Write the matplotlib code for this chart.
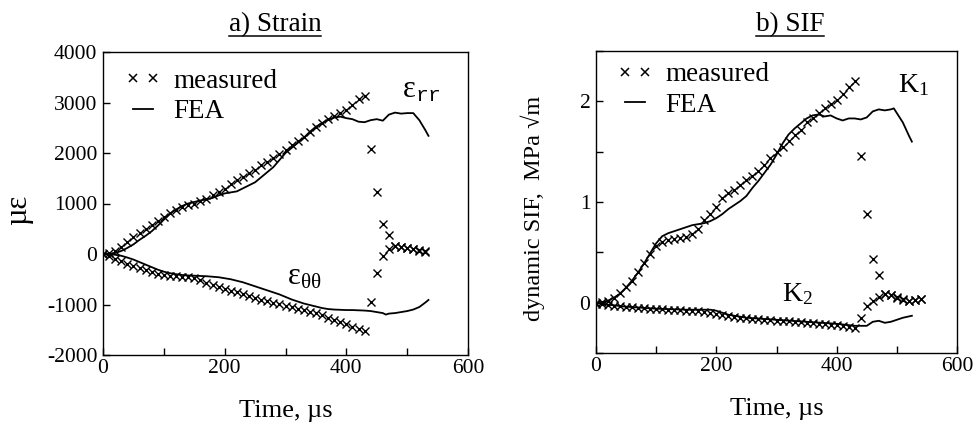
import numpy as np
import matplotlib
matplotlib.use("Agg")
import matplotlib.pyplot as plt
from matplotlib.lines import Line2D
from matplotlib.ticker import MultipleLocator

plt.rcParams['font.family'] = ['Liberation Serif', 'DejaVu Serif']
plt.rcParams['mathtext.fontset'] = 'custom'
plt.rcParams['mathtext.rm'] = 'Liberation Serif'
plt.rcParams['mathtext.it'] = 'Liberation Serif:italic'
plt.rcParams['mathtext.tt'] = 'Liberation Mono'
plt.rcParams['axes.unicode_minus'] = False

# ---- a) strain data (time in microseconds, strain in micro-strain) ----
t_meas_strain = np.arange(0, 540, 10)
err_meas = [0, 10, 50, 130, 240, 330, 420, 490, 570, 650,
            730, 820, 880, 940, 980, 1000, 1050, 1090, 1160, 1220,
            1290, 1380, 1460, 1530, 1600, 1670, 1760, 1830, 1900, 1980,
            2050, 2150, 2230, 2320, 2420, 2520, 2600, 2670, 2740, 2790,
            2850, 2960, 3060, 3120, 2080, 1220, 590, 370, 160, 140,
            120, 90, 70, 50]
ett_meas = [0, -40, -90, -140, -190, -240, -280, -320, -360, -400,
            -420, -435, -445, -455, -465, -480, -520, -570, -620, -660,
            -700, -730, -760, -800, -835, -870, -905, -940, -965, -990,
            -1020, -1050, -1080, -1110, -1140, -1170, -1210, -1260, -1300, -1350,
            -1390, -1440, -1490, -1530, -945, -374, -44, 100, 150, 130,
            110, 90, 60, 40]

t_fea_err = [0, 10, 20, 30, 40, 50, 60, 70, 80, 90, 100, 110, 120, 130, 140,
             150, 160, 170, 180, 190, 200, 210, 220, 230, 240, 250, 260, 270,
             280, 290, 300, 310, 320, 330, 340, 350, 360, 370, 380, 390, 400,
             410, 420, 430, 440, 450, 460, 470, 480, 490, 500, 510, 520, 530, 535]
err_fea = [0, 0, 20, 60, 120, 190, 280, 360, 450, 560, 680, 800, 880, 950, 1000,
           1030, 1060, 1080, 1110, 1160, 1200, 1220, 1240, 1300, 1360, 1420, 1520, 1620,
           1720, 1860, 2000, 2100, 2200, 2300, 2420, 2520, 2590, 2660, 2700, 2720, 2690,
           2670, 2620, 2610, 2650, 2670, 2640, 2760, 2800, 2780, 2790, 2790, 2650, 2450, 2340]

t_fea_ett = [0, 10, 20, 30, 40, 50, 60, 70, 80, 90, 100, 110, 120, 130, 140,
             150, 160, 170, 180, 190, 200, 210, 220, 230, 240, 250, 260, 270,
             280, 290, 300, 310, 320, 330, 340, 350, 360, 370, 380, 390, 400,
             410, 420, 430, 440, 450, 460, 465, 470, 480, 490, 500, 510, 520, 530, 535]
ett_fea = [0, -5, -15, -35, -70, -110, -160, -210, -260, -310, -350, -380, -400, -415, -425,
           -430, -435, -440, -450, -460, -480, -500, -530, -560, -600, -640, -680, -720,
           -760, -800, -850, -900, -940, -980, -1010, -1040, -1070, -1090, -1100, -1105, -1110,
           -1110, -1115, -1120, -1130, -1150, -1170, -1200, -1180, -1170, -1150, -1130, -1100, -1050, -960, -910]

# ---- b) SIF data (MPa sqrt(m)) ----
t_meas_sif = np.arange(0, 550, 10)
k1_meas = [0, 0.01, 0.02, 0.05, 0.10, 0.16, 0.22, 0.30, 0.39, 0.48,
           0.56, 0.60, 0.62, 0.63, 0.64, 0.65, 0.68, 0.73, 0.82, 0.88,
           0.95, 1.04, 1.09, 1.12, 1.17, 1.22, 1.26, 1.31, 1.37, 1.44,
           1.50, 1.55, 1.61, 1.67, 1.72, 1.79, 1.83, 1.88, 1.93, 1.97,
           2.01, 2.07, 2.14, 2.20, 1.46, 0.88, 0.43, 0.27, 0.09, 0.08,
           0.06, 0.04, 0.02, 0.03, 0.04]
k2_meas = [-0.01, -0.01, -0.02, -0.03, -0.03, -0.04, -0.04, -0.05, -0.05, -0.06,
           -0.06, -0.06, -0.07, -0.07, -0.07, -0.08, -0.08, -0.08, -0.09, -0.10,
           -0.11, -0.12, -0.13, -0.14, -0.15, -0.15, -0.16, -0.16, -0.17, -0.17,
           -0.18, -0.18, -0.18, -0.19, -0.19, -0.20, -0.20, -0.21, -0.21, -0.22,
           -0.22, -0.23, -0.24, -0.25, -0.15, -0.03, 0.02, 0.06, 0.09, 0.08,
           0.05, 0.03, 0.02, 0.03, 0.04]

t_fea_k1 = [0, 10, 20, 30, 40, 50, 60, 70, 80, 90, 100, 110, 120, 130, 140,
            150, 160, 170, 180, 190, 200, 210, 220, 230, 240, 250, 260, 270,
            280, 290, 300, 310, 320, 330, 340, 350, 360, 370, 380, 390, 400,
            410, 420, 430, 440, 450, 460, 470, 480, 490, 495, 510, 520, 525]
k1_fea = [0, 0.0, 0.02, 0.05, 0.09, 0.15, 0.22, 0.30, 0.39, 0.49, 0.59, 0.66, 0.69, 0.71, 0.73,
          0.75, 0.77, 0.78, 0.79, 0.81, 0.84, 0.88, 0.93, 0.97, 1.01, 1.06, 1.14, 1.21,
          1.29, 1.37, 1.47, 1.58, 1.67, 1.73, 1.78, 1.83, 1.86, 1.87, 1.85, 1.86, 1.83,
          1.81, 1.83, 1.83, 1.82, 1.84, 1.90, 1.92, 1.91, 1.92, 1.93, 1.79, 1.66, 1.60]

t_fea_k2 = [0, 20, 50, 100, 150, 190, 200, 220, 250, 300, 350, 400, 430,
            440, 450, 460, 470, 480, 490, 500, 510, 525]
k2_fea = [0, -0.02, -0.04, -0.06, -0.07, -0.07, -0.08, -0.12, -0.15, -0.17, -0.19, -0.21, -0.23,
          -0.23, -0.23, -0.19, -0.18, -0.20, -0.19, -0.17, -0.15, -0.13]

TICK_FS = 15.5
LABEL_FS = 19
LEG_FS = 19.5


def style_axes(ax):
    ax.tick_params(which='both', direction='in', labelsize=TICK_FS, width=1,
                   top=False, right=False, length=5)
    ax.tick_params(axis='x', pad=3)
    ax.tick_params(axis='y', pad=4)
    ax.xaxis.set_major_locator(MultipleLocator(200))
    ax.xaxis.set_minor_locator(MultipleLocator(100))
    for s in ax.spines.values():
        s.set_linewidth(1.0)


def add_legend(ax, anchor):
    handles = [Line2D([], [], ls='none', marker='x', color='black', ms=5.5, mew=1.1),
               Line2D([], [], color='black', lw=1.3)]
    ax.legend(handles, ['measured', 'FEA'], loc='upper left', frameon=False,
              numpoints=2, fontsize=LEG_FS, handlelength=1.35, handletextpad=0.45,
              labelspacing=0.2, borderpad=0, borderaxespad=0,
              bbox_to_anchor=anchor)


fig = plt.figure(figsize=(9.77, 4.24), dpi=100)
ax1 = fig.add_axes([103 / 977, 69 / 424, 365 / 977, 303 / 424])
ax2 = fig.add_axes([596 / 977, 71 / 424, 361 / 977, 302 / 424])

mk = dict(ls='none', marker='x', color='black', ms=5.5, mew=1.0)

# a) Strain
ax1.plot(t_fea_err, err_fea, color='black', lw=1.3)
ax1.plot(t_fea_ett, ett_fea, color='black', lw=1.3)
ax1.plot(t_meas_strain, err_meas, **mk)
ax1.plot(t_meas_strain, ett_meas, **mk)
ax1.set_xlim(0, 600)
ax1.set_ylim(-2000, 4000)
style_axes(ax1)
ax1.yaxis.set_major_locator(MultipleLocator(1000))
ax1.set_xlabel('Time, µs', fontsize=LABEL_FS, labelpad=16)
ax1.set_ylabel('µε', fontsize=22)
ax1.yaxis.set_label_coords(-0.192, 0.48)
ax1.text(492, 3250, r'$\mathrm{\varepsilon}_{\mathtt{rr}}$', fontsize=22, va='center')
ax1.text(302, -450, r'$\mathrm{\varepsilon}_{\mathrm{\theta\theta}}$', fontsize=22, va='center')
add_legend(ax1, (0.060, 0.945))

# b) SIF
ax2.plot(t_fea_k1, k1_fea, color='black', lw=1.3)
ax2.plot(t_fea_k2, k2_fea, color='black', lw=1.3)
ax2.plot(t_meas_sif, k1_meas, **mk)
ax2.plot(t_meas_sif, k2_meas, **mk)
ax2.set_xlim(0, 600)
ax2.set_ylim(-0.5, 2.5)
style_axes(ax2)
ax2.yaxis.set_major_locator(MultipleLocator(1))
ax2.yaxis.set_minor_locator(MultipleLocator(0.5))
ax2.set_xlabel('Time, µs', fontsize=LABEL_FS, labelpad=16)
ax2.set_ylabel('dynamic SIF,  MPa √m', fontsize=17.5)
ax2.yaxis.set_label_coords(-0.141, 0.478)
ax2.text(502, 2.16, r'$\mathrm{K}_1$', fontsize=20, va='center')
ax2.text(309, 0.08, r'$\mathrm{K}_2$', fontsize=20, va='center')
add_legend(ax2, (0.058, 0.963))

# underlined panel titles
titles = [(275 / 977, 'a) Strain'), (790 / 977, 'b) SIF')]
title_objs = [fig.text(x, 1 - 25 / 424, s, ha='center', va='center', fontsize=19.5)
              for x, s in titles]
fig.canvas.draw()
renderer = fig.canvas.get_renderer()
for txt in title_objs:
    bb = txt.get_window_extent(renderer).transformed(fig.transFigure.inverted())
    y_line = bb.y0 + 0.004
    fig.add_artist(Line2D([bb.x0, bb.x1], [y_line, y_line], color='black', lw=1.1,
                          transform=fig.transFigure))

fig.savefig('out.png', dpi=100)
